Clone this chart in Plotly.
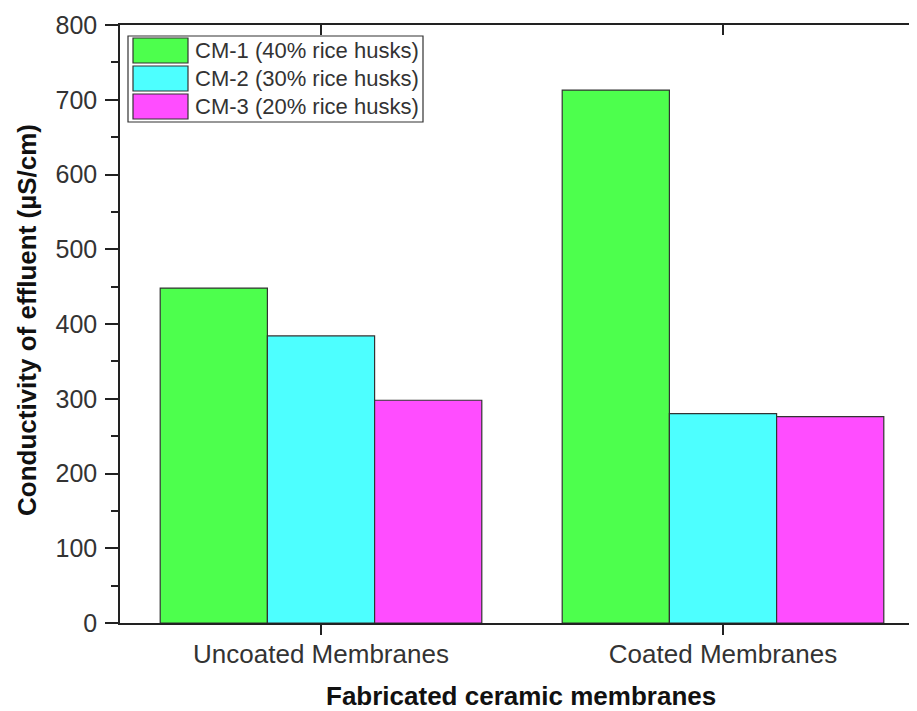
import plotly.graph_objects as go

# data
categories = ["Uncoated Membranes", "Coated Membranes"]
series_names = ["CM-1 (40% rice husks)", "CM-2 (30% rice husks)", "CM-3 (20% rice husks)"]
cm1 = [448, 713]
cm2 = [384, 280]
cm3 = [298, 276]
colors = ["#4dff4d", "#4dffff", "#ff4dff"]
y_ticks = [0, 100, 200, 300, 400, 500, 600, 700, 800]
x_title = "Fabricated ceramic membranes"
y_title = "Conductivity of effluent (µS/cm)"

# the page body has an 8px margin, so figure pixels sit 8px right/down of the screenshot
OFF = 8
W, H = 917, 711
L, T = 120 - OFF, 25 - OFF
R = W - (924 - OFF)
B = H - (623 - OFF)
FONT = "Arial, Liberation Sans, sans-serif"
AXIS_COLOR = "#222222"


def px_x(p):
    # screenshot pixel -> paper coordinate
    return (p - OFF - L) / (W - L - R)


def px_y(p):
    return (H - B - (p - OFF)) / (H - T - B)


fig = go.Figure()
for name, vals, col in zip(series_names, [cm1, cm2, cm3], colors):
    fig.add_trace(go.Bar(
        x=categories, y=vals, name=name,
        marker=dict(color=col, line=dict(color="#333333", width=1.2)),
        showlegend=False,
    ))

# helper trace so the mirrored (inward-tick) axes get drawn
fig.add_trace(go.Scatter(x=[None], y=[None], xaxis="x2", yaxis="y2",
                         showlegend=False, hoverinfo="skip"))

x_range = [-0.5, 1.5]

fig.update_layout(
    width=W, height=H,
    margin=dict(l=L, r=R, t=T, b=B, autoexpand=False),
    paper_bgcolor="white", plot_bgcolor="white",
    barmode="group", bargap=0.2, bargroupgap=0,
    font=dict(family=FONT, size=24, color="#333333"),
    xaxis=dict(
        type="category", range=x_range, automargin=False,
        showline=True, linecolor=AXIS_COLOR, linewidth=1.5, mirror=True,
        ticks="outside", ticklen=10, tickwidth=1.5, tickcolor=AXIS_COLOR,
        tickfont=dict(size=26, color="#333333"), ticklabelstandoff=-3,
        showgrid=False, zeroline=False,
    ),
    yaxis=dict(
        range=[0, 800], tickvals=y_ticks, automargin=False,
        showline=True, linecolor=AXIS_COLOR, linewidth=1.5, mirror=True,
        ticks="outside", ticklen=13, tickwidth=1.5, tickcolor=AXIS_COLOR,
        minor=dict(ticks="outside", ticklen=7, tickwidth=1.5, tickcolor=AXIS_COLOR, dtick=50),
        tickfont=dict(size=25, color="#333333"), ticklabelstandoff=3,
        showgrid=False, zeroline=False,
    ),
    xaxis2=dict(
        overlaying="x", side="top", anchor="y", range=x_range,
        tickvals=[0, 1], ticks="inside", ticklen=10, tickwidth=1.5, tickcolor=AXIS_COLOR,
        showticklabels=False, showgrid=False, zeroline=False, showline=False,
    ),
    yaxis2=dict(
        overlaying="y", side="right", anchor="x", range=[0, 800],
        tickvals=y_ticks, ticks="inside", ticklen=13, tickwidth=1.5, tickcolor=AXIS_COLOR,
        showticklabels=False, showgrid=False, zeroline=False, showline=False,
    ),
)

annotations = [
    dict(xref="paper", yref="paper", x=px_x(521), y=px_y(696), text="<b>" + x_title + "</b>",
         showarrow=False, xanchor="center", yanchor="middle",
         font=dict(family=FONT, size=26, color="#111111")),
    dict(xref="paper", yref="paper", x=px_x(27), y=px_y(320), text="<b>" + y_title + "</b>",
         showarrow=False, xanchor="center", yanchor="middle", textangle=-90,
         font=dict(family=FONT, size=26, color="#111111")),
]

# legend drawn by hand to get the large Origin-style swatches
shapes = [dict(type="rect", xref="paper", yref="paper",
               x0=px_x(128), x1=px_x(423), y0=px_y(122), y1=px_y(36),
               line=dict(color="#333333", width=1.2), fillcolor="white", layer="above")]
rows = [(38, 63), (66, 91), (94, 119)]
for (top, bot), name, col in zip(rows, series_names, colors):
    shapes.append(dict(type="rect", xref="paper", yref="paper",
                       x0=px_x(133), x1=px_x(188), y0=px_y(bot), y1=px_y(top),
                       line=dict(color="#333333", width=1.2), fillcolor=col, layer="above"))
    annotations.append(dict(xref="paper", yref="paper", x=px_x(193), y=px_y((top + bot) / 2),
                            text=name, showarrow=False, xanchor="left", yanchor="middle",
                            font=dict(family=FONT, size=22, color="#333333")))
fig.update_layout(shapes=shapes, annotations=annotations)

fig.write_html("out.html")
